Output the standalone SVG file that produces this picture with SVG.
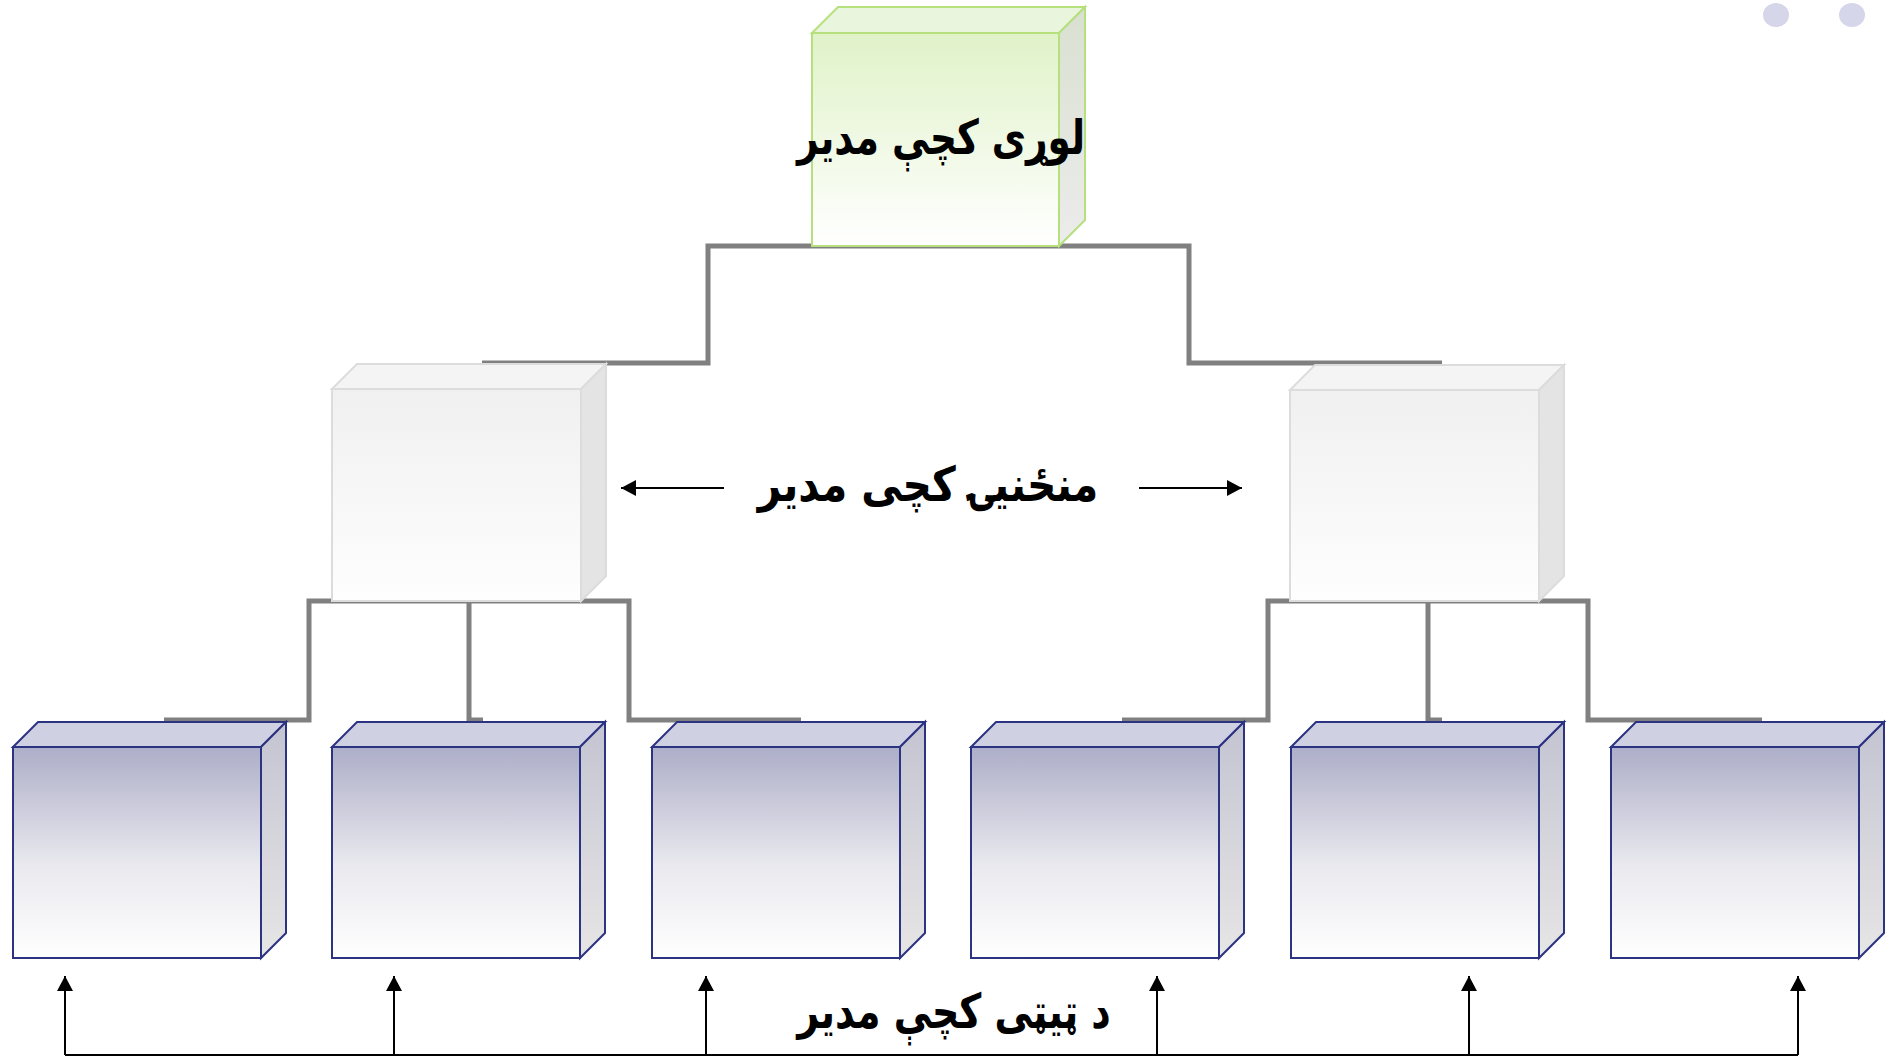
<svg xmlns="http://www.w3.org/2000/svg" width="1892" height="1058" viewBox="0 0 1892 1058">
<style>
.conn{fill:none;stroke:#808080;stroke-width:5}
.arr{fill:none;stroke:#000;stroke-width:2}
.lbl{font-family:"DejaVu Sans",sans-serif;font-weight:bold;fill:#000;text-anchor:middle;font-size:48px}
.gF{stroke:#b6e07e;stroke-width:2}
.wF{stroke:#dcdcdc;stroke-width:2}
.bF{stroke:#2c3382;stroke-width:2}
</style>
<defs>
<linearGradient id="gFront" x1="0" y1="0" x2="0" y2="1"><stop offset="0" stop-color="#e0f2c8"/><stop offset="1" stop-color="#ffffff"/></linearGradient>
<linearGradient id="gSide" x1="0" y1="0" x2="0" y2="1"><stop offset="0" stop-color="#d9e0d0"/><stop offset="1" stop-color="#ececec"/></linearGradient>
<linearGradient id="wFront" x1="0" y1="0" x2="0" y2="1"><stop offset="0" stop-color="#f0f0f0"/><stop offset="1" stop-color="#fefefe"/></linearGradient>
<linearGradient id="bFront" x1="0" y1="0" x2="0" y2="1"><stop offset="0" stop-color="#adaec8"/><stop offset="0.55" stop-color="#e8e8ee"/><stop offset="1" stop-color="#ffffff"/></linearGradient>
<linearGradient id="bSide" x1="0" y1="0" x2="0" y2="1"><stop offset="0" stop-color="#c4c4d2"/><stop offset="1" stop-color="#e6e6e6"/></linearGradient>
<marker id="ah" markerWidth="16" markerHeight="16" refX="15" refY="8" orient="auto" markerUnits="userSpaceOnUse"><path d="M0,0 L15,8 L0,16 Z" fill="#000"/></marker>
</defs>
<rect width="1892" height="1058" fill="#fff"/>
<ellipse cx="1776" cy="15" rx="13" ry="12" fill="#d6d6ea"/>
<ellipse cx="1852" cy="15" rx="13" ry="12" fill="#d6d6ea"/>
<g id="connectors">
<path class="conn" d="M482,363 H708 V246 H1189 V363 H1442"/>
<path class="conn" d="M164,720 H309 V601 H629 V720 H801"/>
<path class="conn" d="M469,601 V720 H483"/>
<path class="conn" d="M1122,720 H1268 V601 H1588 V720 H1762"/>
<path class="conn" d="M1428,601 V720 H1442"/>
<path class="arr" d="M65,1055 H1798"/>
<path class="arr" d="M65,1055 V976" marker-end="url(#ah)"/>
<path class="arr" d="M394,1055 V976" marker-end="url(#ah)"/>
<path class="arr" d="M706,1055 V976" marker-end="url(#ah)"/>
<path class="arr" d="M1157,1055 V976" marker-end="url(#ah)"/>
<path class="arr" d="M1469,1055 V976" marker-end="url(#ah)"/>
<path class="arr" d="M1798,1055 V976" marker-end="url(#ah)"/>
<path class="arr" d="M724,488 H621" marker-end="url(#ah)"/>
<path class="arr" d="M1139,488 H1242" marker-end="url(#ah)"/>
</g>
<g id="top-manager">
<polygon class="gF" points="812,33 838,7 1085,7 1059,33" fill="#eaf5dd"/>
<polygon class="gF" points="1059,33 1085,7 1085,220 1059,246" fill="url(#gSide)"/>
<rect class="gF" x="812" y="33" width="247" height="213" fill="url(#gFront)"/>
<text class="lbl" transform="translate(941,154) scale(0.78,1)">لوړی کچې مدیر</text>
</g>
<g id="mid-left">
<polygon class="wF" points="332,389 357,364 606,364 581,389" fill="#f4f4f4"/>
<polygon class="wF" points="581,389 606,364 606,576 581,601" fill="#e4e4e4"/>
<rect class="wF" x="332" y="389" width="249" height="212" fill="url(#wFront)"/>
</g>
<g id="mid-right">
<polygon class="wF" points="1290,390 1315,365 1564,365 1539,390" fill="#f4f4f4"/>
<polygon class="wF" points="1539,390 1564,365 1564,576 1539,601" fill="#e4e4e4"/>
<rect class="wF" x="1290" y="390" width="249" height="211" fill="url(#wFront)"/>
</g>
<g id="mid-label">
<text class="lbl" transform="translate(928,501) scale(0.85,1)">منځنیۍ کچی مدیر</text>
</g>
<g id="low-1">
<polygon class="bF" points="13,747 38,722 286,722 261,747" fill="#cfd0e1"/>
<polygon class="bF" points="261,747 286,722 286,933 261,958" fill="url(#bSide)"/>
<rect class="bF" x="13" y="747" width="248" height="211" fill="url(#bFront)"/>
</g>
<g id="low-2">
<polygon class="bF" points="332,747 357,722 605,722 580,747" fill="#cfd0e1"/>
<polygon class="bF" points="580,747 605,722 605,933 580,958" fill="url(#bSide)"/>
<rect class="bF" x="332" y="747" width="248" height="211" fill="url(#bFront)"/>
</g>
<g id="low-3">
<polygon class="bF" points="652,747 677,722 925,722 900,747" fill="#cfd0e1"/>
<polygon class="bF" points="900,747 925,722 925,933 900,958" fill="url(#bSide)"/>
<rect class="bF" x="652" y="747" width="248" height="211" fill="url(#bFront)"/>
</g>
<g id="low-4">
<polygon class="bF" points="971,747 996,722 1244,722 1219,747" fill="#cfd0e1"/>
<polygon class="bF" points="1219,747 1244,722 1244,933 1219,958" fill="url(#bSide)"/>
<rect class="bF" x="971" y="747" width="248" height="211" fill="url(#bFront)"/>
</g>
<g id="low-5">
<polygon class="bF" points="1291,747 1316,722 1564,722 1539,747" fill="#cfd0e1"/>
<polygon class="bF" points="1539,747 1564,722 1564,933 1539,958" fill="url(#bSide)"/>
<rect class="bF" x="1291" y="747" width="248" height="211" fill="url(#bFront)"/>
</g>
<g id="low-6">
<polygon class="bF" points="1611,747 1636,722 1884,722 1859,747" fill="#cfd0e1"/>
<polygon class="bF" points="1859,747 1884,722 1884,933 1859,958" fill="url(#bSide)"/>
<rect class="bF" x="1611" y="747" width="248" height="211" fill="url(#bFront)"/>
</g>
<g id="low-label">
<text class="lbl" transform="translate(954,1028) scale(0.79,1)">د ټیټی کچې مدیر</text>
</g>
</svg>
